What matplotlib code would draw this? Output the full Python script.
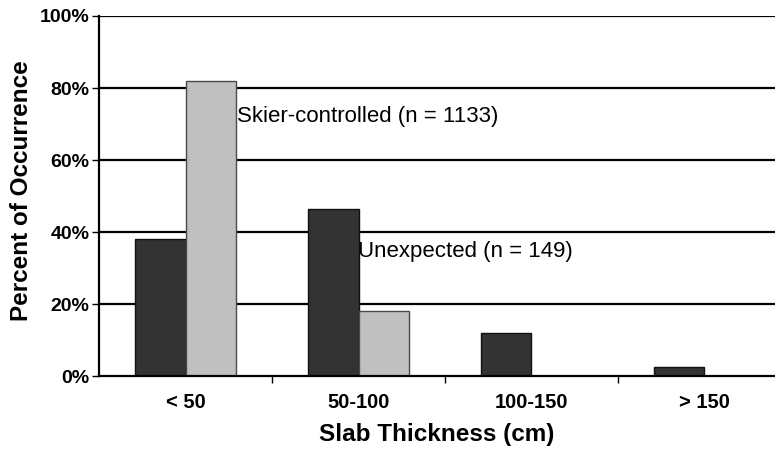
import numpy as np
import matplotlib.pyplot as plt

plt.rcParams["font.family"] = ["Liberation Sans", "DejaVu Sans"]

categories = ["< 50", "50-100", "100-150", "> 150"]
unexpected = [38, 46.5, 12, 2.5]
skier = [82, 18, 0, 0]
yticks = [0, 20, 40, 60, 80, 100]

fig = plt.figure(figsize=(7.75, 4.57), dpi=100)
ax = fig.add_axes([99 / 775, 1 - 376.3 / 457, 676 / 775, 360.3 / 457])

x = np.arange(len(categories))
w = 0.29
ax.bar(x - w / 2, unexpected, w, color="#333333", edgecolor="#111111",
       linewidth=1, zorder=3)
ax.bar(x + w / 2, skier, w, color="#c0c0c0", edgecolor="#4a4a4a",
       linewidth=1, zorder=3)

ax.set_xlim(-0.5, -0.5 + 676 / 173)
ax.set_ylim(0, 100)

for y in yticks[1:]:
    ax.axhline(y, color="black", linewidth=1.6, zorder=1)

ax.set_yticks(yticks)
ax.set_yticklabels([f"{v}%" for v in yticks], fontsize=14, fontweight="bold")
ax.set_xticks(x)
ax.set_xticklabels(categories, fontsize=14.5, fontweight="bold")
ax.set_xticks([0.5, 1.5, 2.5], minor=True)
ax.tick_params(axis="x", which="major", length=0, pad=12)
ax.tick_params(axis="x", which="minor", length=5, width=1, direction="out")
ax.tick_params(axis="y", length=5, width=1, pad=2)

for side in ["top", "right"]:
    ax.spines[side].set_visible(False)
ax.spines["left"].set_linewidth(1.6)
ax.spines["bottom"].set_linewidth(1.6)
ax.spines["left"].set_zorder(4)
ax.spines["bottom"].set_zorder(4)

ax.text(0.30, 72, "Skier-controlled (n = 1133)", fontsize=16,
        va="center", ha="left")
ax.text(1.0, 34.5, "Unexpected (n = 149)", fontsize=16,
        va="center", ha="left")

ax.set_xlabel("Slab Thickness (cm)", fontsize=17.5, fontweight="bold", labelpad=8)
ax.set_ylabel("Percent of Occurrence", fontsize=17.5, fontweight="bold")
ax.yaxis.set_label_coords(-66 / 676, 0.515)

fig.savefig("out.png", dpi=100)
